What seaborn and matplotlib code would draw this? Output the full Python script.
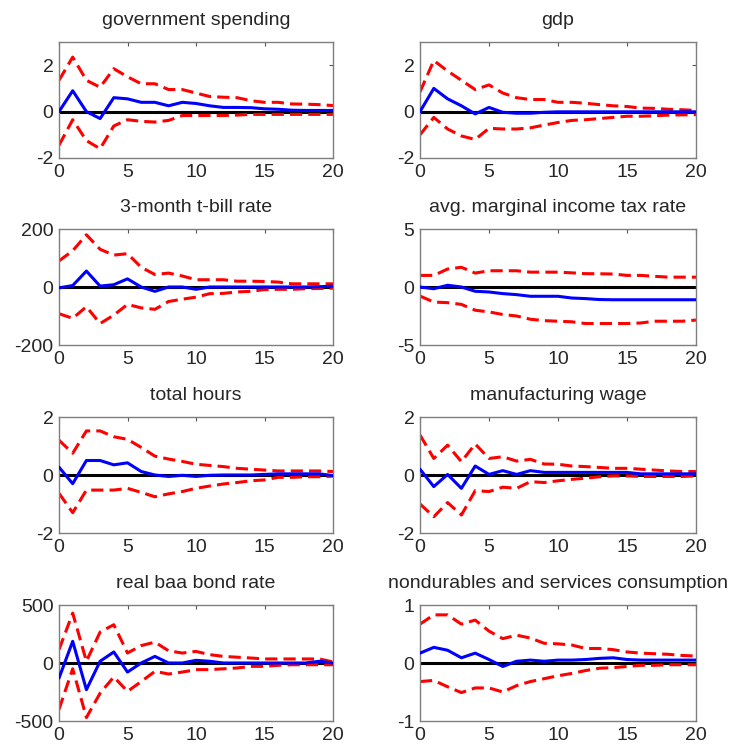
import numpy as np
import pandas as pd
import matplotlib
matplotlib.use("Agg")
import matplotlib.pyplot as plt
import seaborn as sns

horizon = list(range(21))

titles = [
    "government spending", "gdp",
    "3-month t-bill rate", "avg. marginal income tax rate",
    "total hours", "manufacturing wage",
    "real baa bond rate", "nondurables and services consumption",
]

# point responses (blue) and bands (red dashed), horizons 0..20
gov_mid = [0, 0.9, 0.0, -0.3, 0.6, 0.55, 0.4, 0.4, 0.25, 0.4, 0.35, 0.25, 0.18, 0.18, 0.17, 0.12, 0.1, 0.06, 0.05, 0.05, 0.05]
gov_hi = [1.35, 2.35, 1.35, 1.05, 1.85, 1.5, 1.2, 1.2, 0.95, 0.95, 0.8, 0.65, 0.62, 0.6, 0.47, 0.4, 0.4, 0.33, 0.32, 0.3, 0.26]
gov_lo = [-1.45, -0.35, -1.25, -1.6, -0.62, -0.35, -0.42, -0.45, -0.38, -0.17, -0.17, -0.17, -0.17, -0.15, -0.12, -0.12, -0.12, -0.12, -0.12, -0.12, -0.12]

gdp_mid = [0, 1.0, 0.55, 0.25, -0.1, 0.18, -0.03, -0.07, -0.07, -0.03, -0.01, -0.01, -0.01, -0.01, -0.01, -0.01, -0.01, -0.01, -0.01, -0.01, -0.01]
gdp_hi = [0.85, 2.2, 1.75, 1.35, 0.95, 1.15, 0.8, 0.6, 0.52, 0.52, 0.4, 0.4, 0.36, 0.3, 0.25, 0.22, 0.15, 0.14, 0.1, 0.08, 0.05]
gdp_lo = [-1.0, -0.25, -0.75, -1.05, -1.2, -0.72, -0.75, -0.75, -0.7, -0.58, -0.47, -0.38, -0.35, -0.3, -0.25, -0.2, -0.2, -0.18, -0.15, -0.14, -0.13]

tbill_mid = [-3, 5, 55, 3, 8, 28, 0, -15, 0, 0, -8, 0, 0, 0, 0, 0, 0, 0, 0, 1, 3]
tbill_hi = [90, 125, 180, 130, 110, 115, 68, 43, 48, 38, 25, 25, 25, 20, 20, 19, 17, 11, 11, 11, 11]
tbill_lo = [-92, -108, -68, -126, -97, -60, -72, -77, -50, -42, -35, -23, -22, -17, -15, -9, -8, -8, -6, -5, -4]

tax_mid = [0, -0.15, 0.15, 0, -0.37, -0.43, -0.57, -0.66, -0.8, -0.8, -0.8, -0.95, -1.0, -1.08, -1.1, -1.1, -1.1, -1.1, -1.1, -1.1, -1.1]
tax_hi = [1.0, 1.0, 1.55, 1.7, 1.2, 1.4, 1.4, 1.4, 1.28, 1.28, 1.28, 1.22, 1.15, 1.14, 1.12, 1.0, 1.0, 0.92, 0.85, 0.85, 0.85]
tax_lo = [-0.78, -1.3, -1.35, -1.5, -2.0, -2.15, -2.37, -2.5, -2.78, -2.9, -2.95, -3.0, -3.15, -3.15, -3.15, -3.15, -3.1, -2.95, -2.95, -2.95, -2.85]

hours_mid = [0.27, -0.3, 0.5, 0.5, 0.35, 0.42, 0.12, 0.0, -0.05, -0.01, -0.05, -0.01, 0.0, 0.0, 0.0, 0.02, 0.04, 0.04, 0.04, 0.04, -0.02]
hours_hi = [1.2, 0.75, 1.52, 1.52, 1.32, 1.23, 0.95, 0.65, 0.55, 0.47, 0.37, 0.33, 0.29, 0.23, 0.2, 0.17, 0.14, 0.14, 0.14, 0.14, 0.12]
hours_lo = [-0.63, -1.3, -0.52, -0.52, -0.52, -0.46, -0.6, -0.75, -0.65, -0.57, -0.46, -0.38, -0.31, -0.26, -0.2, -0.17, -0.08, -0.08, -0.06, -0.06, -0.04]

wage_mid = [0.2, -0.4, 0.02, -0.46, 0.31, 0.02, 0.15, 0.02, 0.15, 0.09, 0.09, 0.09, 0.09, 0.09, 0.09, 0.09, 0.04, 0.04, 0.04, 0.04, 0.04]
wage_hi = [1.38, 0.57, 1.03, 0.46, 1.07, 0.57, 0.63, 0.48, 0.54, 0.38, 0.37, 0.31, 0.29, 0.26, 0.23, 0.23, 0.2, 0.17, 0.14, 0.12, 0.12]
wage_lo = [-1.0, -1.44, -0.95, -1.38, -0.54, -0.57, -0.42, -0.46, -0.23, -0.26, -0.2, -0.15, -0.11, -0.06, -0.03, -0.03, -0.05, -0.05, -0.05, -0.05, -0.03]

baa_mid = [-130, 187, -230, 15, 95, -78, 0, 57, 0, 0, 23, 15, 0, 0, 0, 0, 0, 0, 0, 15, 0]
baa_hi = [115, 430, 15, 267, 330, 86, 150, 180, 105, 86, 100, 72, 57, 50, 43, 35, 35, 35, 35, 35, 9]
baa_lo = [-400, -50, -470, -260, -120, -245, -160, -72, -95, -78, -57, -57, -50, -43, -29, -29, -20, -15, -15, -15, -15]

cons_mid = [0.17, 0.27, 0.22, 0.09, 0.17, 0.06, -0.06, 0.03, 0.05, 0.03, 0.05, 0.05, 0.06, 0.08, 0.09, 0.06, 0.05, 0.05, 0.05, 0.05, 0.05]
cons_hi = [0.67, 0.83, 0.83, 0.67, 0.74, 0.55, 0.42, 0.48, 0.43, 0.34, 0.33, 0.31, 0.25, 0.25, 0.23, 0.19, 0.17, 0.16, 0.15, 0.13, 0.12]
cons_lo = [-0.32, -0.3, -0.41, -0.51, -0.43, -0.43, -0.5, -0.39, -0.32, -0.27, -0.22, -0.18, -0.13, -0.09, -0.08, -0.06, -0.04, -0.04, -0.03, -0.03, -0.03]

series = [
    (gov_mid, gov_hi, gov_lo), (gdp_mid, gdp_hi, gdp_lo),
    (tbill_mid, tbill_hi, tbill_lo), (tax_mid, tax_hi, tax_lo),
    (hours_mid, hours_hi, hours_lo), (wage_mid, wage_hi, wage_lo),
    (baa_mid, baa_hi, baa_lo), (cons_mid, cons_hi, cons_lo),
]

y_limits = [(-2, 3), (-2, 3), (-200, 200), (-5, 5), (-2, 2), (-2, 2), (-500, 500), (-1, 1)]
y_ticks = [[-2, 0, 2], [-2, 0, 2], [-200, 0, 200], [-5, 0, 5],
           [-2, 0, 2], [-2, 0, 2], [-500, 0, 500], [-1, 0, 1]]
x_ticks = [0, 5, 10, 15, 20]

sns.set_style("white")
plt.rcParams["font.family"] = ["Liberation Sans", "DejaVu Sans"]
plt.rcParams["axes.unicode_minus"] = False

FS = 14

W, H = 734, 749
fig = plt.figure(figsize=(W / 100, H / 100), dpi=100)

col_left = [59, 420]
col_width = [274, 276]
row_top = [42, 229, 417, 605]
ax_h = 116

for i, (title, (mid, hi, lo)) in enumerate(zip(titles, series)):
    r, c = divmod(i, 2)
    ax = fig.add_axes([col_left[c] / W, 1 - (row_top[r] + ax_h) / H,
                       col_width[c] / W, ax_h / H])
    df = pd.DataFrame({"h": horizon, "mid": mid, "hi": hi, "lo": lo})
    ax.axhline(0, color="black", lw=2.2, zorder=1)
    for band in ("hi", "lo"):
        sns.lineplot(data=df, x="h", y=band, ax=ax, color="#ff0000", lw=2.2,
                     linestyle=(0, (4, 2)), zorder=2)
    sns.lineplot(data=df, x="h", y="mid", ax=ax, color="#0000ff", lw=2.2, zorder=3)
    ax.set_xlim(0, 20)
    ax.set_ylim(*y_limits[i])
    ax.set_xticks(x_ticks)
    ax.set_yticks(y_ticks[i])
    ax.set_xlabel("")
    ax.set_ylabel("")
    ax.set_title(title, fontsize=FS, pad=12)
    ax.tick_params(direction="in", length=3, width=0.8, color="#555555",
                   top=True, right=True, labelsize=FS, pad=4)
    for sp in ax.spines.values():
        sp.set_color("#7f7f7f")
        sp.set_linewidth(1.0)

fig.savefig("out.png", dpi=100, facecolor="white")
